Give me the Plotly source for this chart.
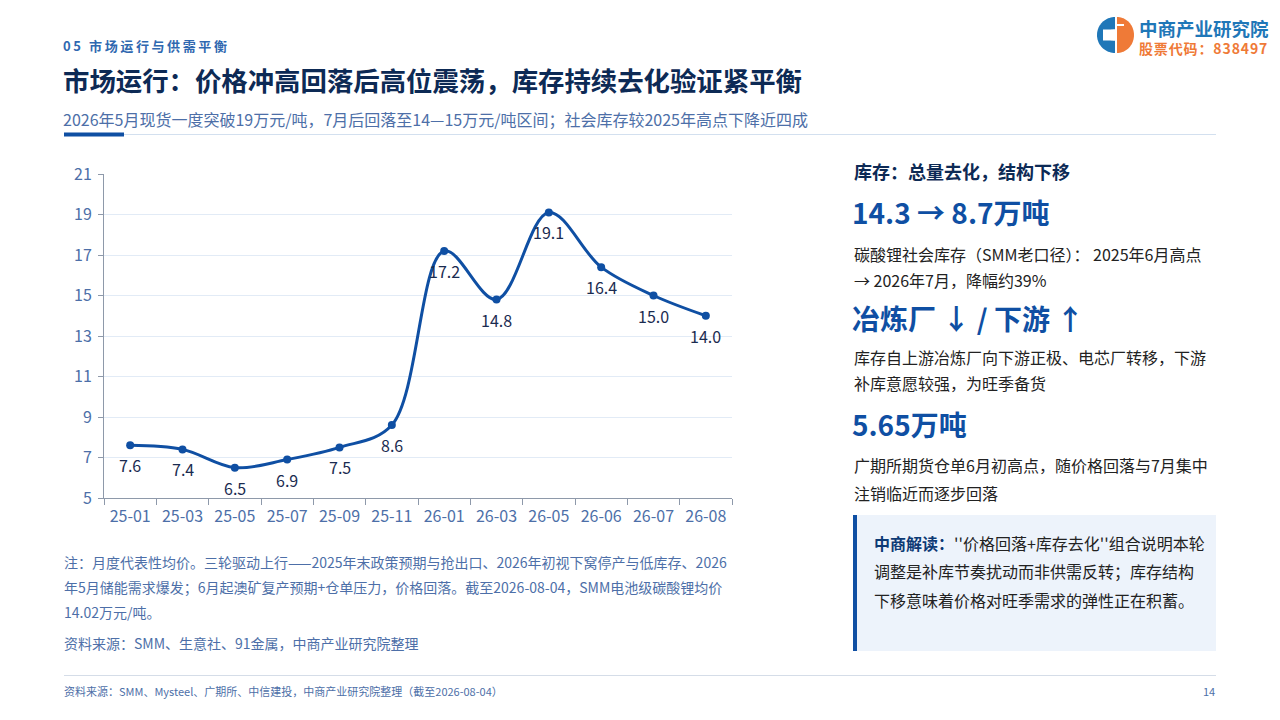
import math
import plotly.graph_objects as go

W, H = 1280, 720
OFF = 8  # the page body margin shifts the figure by 8px
FONT = "Noto Sans CJK SC"

# price series (万元/吨)
months = ["25-01", "25-03", "25-05", "25-07", "25-09", "25-11",
          "26-01", "26-03", "26-05", "26-06", "26-07", "26-08"]
price = [7.6, 7.4, 6.5, 6.9, 7.5, 8.6, 17.2, 14.8, 19.1, 16.4, 15.0, 14.0]
y_ticks = [5, 7, 9, 11, 13, 15, 17, 19, 21]

# text blocks
section = "05 市场运行与供需平衡"
title = "市场运行：价格冲高回落后高位震荡，库存持续去化验证紧平衡"
subtitle = "2026年5月现货一度突破19万元/吨，7月后回落至14—15万元/吨区间；社会库存较2025年高点下降近四成"
notes = ["注：月度代表性均价。三轮驱动上行——2025年末政策预期与抢出口、2026年初视下窝停产与低库存、2026",
         "年5月储能需求爆发；6月起澳矿复产预期+仓单压力，价格回落。截至2026-08-04，SMM电池级碳酸锂均价",
         "14.02万元/吨。"]
chart_source = "资料来源：SMM、生意社、91金属，中商产业研究院整理"
footer = "资料来源：SMM、Mysteel、广期所、中信建投，中商产业研究院整理（截至2026-08-04）"

NAVY = "#0d2a55"
BLUE = "#0f4fa3"
MUTED = "#4d6fa8"


def px(x):
    return (x - OFF) / W


def py(y):
    return 1 - (y - OFF) / H


def poly(points):
    return "M " + " L ".join("%f,%f" % (px(a), py(b)) for a, b in points) + " Z"


def arc(cx, cy, rx, ry, a0, a1, n=40):
    return [(cx + rx * math.cos(math.radians(a0 + (a1 - a0) * i / n)),
             cy - ry * math.sin(math.radians(a0 + (a1 - a0) * i / n))) for i in range(n + 1)]


def spaced(s, sep="\u2009"):
    # mimic letter spacing with narrow spaces
    return sep.join(s)


fig = go.Figure()

fig.add_trace(go.Scatter(
    x=months, y=price, mode="lines+markers",
    line=dict(color=BLUE, width=3, shape="spline", smoothing=1.0),
    marker=dict(color=BLUE, size=8),
    hoverinfo="skip", showlegend=False))

fig.update_xaxes(domain=[px(104), px(732)], type="category", range=[-0.5, 11.5],
                 tickson="boundaries", ticks="outside", ticklen=6, tickcolor="#8e99aa",
                 showline=True, linecolor="#8e99aa", linewidth=1, showgrid=False,
                 ticklabelstandoff=4, automargin=False,
                 tickfont=dict(family=FONT, size=16, color=MUTED))
fig.update_yaxes(domain=[py(498), py(174)], range=[5, 21], tickvals=y_ticks,
                 ticks="outside", ticklen=5, tickcolor="#8e99aa",
                 showline=True, linecolor="#8e99aa", linewidth=1, automargin=False,
                 showgrid=True, gridcolor="#e2ebf6", gridwidth=1, zeroline=False,
                 ticklabelstandoff=3, tickfont=dict(family=FONT, size=16, color=MUTED))

ann = []
shapes = []

# value labels under each point
for m, v in zip(months, price):
    ann.append(dict(x=m, y=v, xref="x", yref="y", text="%.1f" % v, showarrow=False,
                    yshift=-20, font=dict(family=FONT, size=16, color="#1a2b50")))


def text(x, y, s, size, color, bold=False, anchor="left"):
    if bold:
        s = "<b>%s</b>" % s
    ann.append(dict(x=px(x), y=py(y), xref="paper", yref="paper", text=s, showarrow=False,
                    xanchor=anchor, yanchor="middle", borderpad=0,
                    font=dict(family=FONT, size=size, color=color)))


# header
text(62, 45, spaced(section), 13, "#2f68b0", bold=True)
text(62, 80, title, 26.4, NAVY, bold=True)
text(62, 119, subtitle, 16, MUTED)
shapes.append(dict(type="line", xref="paper", yref="paper", x0=px(124), x1=px(1216),
                   y0=py(134.5), y1=py(134.5), line=dict(color="#d3e0ef", width=1)))
shapes.append(dict(type="rect", xref="paper", yref="paper", x0=px(64), x1=px(124),
                   y0=py(136.5), y1=py(132.5), fillcolor=BLUE, line=dict(width=0)))

# logo
LOGO_BLUE, LOGO_ORANGE = "#1f77b8", "#ef7a37"
cx, cy, r = 1115, 35, 18
shapes.append(dict(type="path", xref="paper", yref="paper",
                   path=poly(arc(cx, cy, r, r, 90, 270)),
                   fillcolor=LOGO_BLUE, line=dict(width=0)))
shapes.append(dict(type="path", xref="paper", yref="paper",
                   path=poly(arc(cx, cy, 12, 5.5, 90, 270)),
                   fillcolor="white", line=dict(width=0)))
shapes.append(dict(type="rect", xref="paper", yref="paper", x0=px(cx - 12), x1=px(cx),
                   y0=py(cy + 5.5), y1=py(cy - 5.5), fillcolor="white", line=dict(width=0),
                   layer="above"))
shapes.append(dict(type="path", xref="paper", yref="paper",
                   path=poly(arc(cx + 2, cy, r - 1, r, -90, 90)),
                   fillcolor=LOGO_ORANGE, line=dict(width=0)))
shapes.append(dict(type="rect", xref="paper", yref="paper", x0=px(cx + 2), x1=px(cx + 9),
                   y0=py(26), y1=py(24), fillcolor="white", line=dict(width=0)))
text(1138, 28, "中商产业研究院", 18.5, LOGO_BLUE, bold=True)
text(1138, 48, spaced("股票代码：838497", "\u200a"), 14, LOGO_ORANGE, bold=True)

# right panel
text(853, 171, "库存：总量去化，结构下移", 18, NAVY, bold=True)
text(851, 212, "14.3 → 8.7万吨", 28, BLUE, bold=True)
text(853, 254, "碳酸锂社会库存（SMM老口径）： 2025年6月高点", 16, "#222222")
text(853, 280, "→ 2026年7月，降幅约39%", 16, "#222222")
text(851, 318, "冶炼厂 ↓ / 下游 ↑", 28, BLUE, bold=True)
text(853, 357, "库存自上游冶炼厂向下游正极、电芯厂转移，下游", 16, "#222222")
text(853, 383, "补库意愿较强，为旺季备货", 16, "#222222")
text(851, 424, "5.65万吨", 28, BLUE, bold=True)
text(853, 465, "广期所期货仓单6月初高点，随价格回落与7月集中", 16, "#222222")
text(853, 493, "注销临近而逐步回落", 16, "#222222")

shapes.append(dict(type="rect", xref="paper", yref="paper", x0=px(853), x1=px(1216),
                   y0=py(651), y1=py(515), fillcolor="#edf3fb", line=dict(width=0)))
shapes.append(dict(type="rect", xref="paper", yref="paper", x0=px(853), x1=px(857),
                   y0=py(651), y1=py(515), fillcolor=BLUE, line=dict(width=0)))
text(873, 543, "<b><span style='color:#0d3a75'>中商解读：</span></b>''价格回落+库存去化''组合说明本轮",
     16, "#222222")
text(873, 571, "调整是补库节奏扰动而非供需反转；库存结构", 16, "#222222")
text(873, 600, "下移意味着价格对旺季需求的弹性正在积蓄。", 16, "#222222")

# notes under chart
for i, line in enumerate(notes):
    text(63, 562 + i * 25, line, 14, MUTED)
text(63, 643, chart_source, 14, MUTED)

# footer
shapes.append(dict(type="line", xref="paper", yref="paper", x0=px(64), x1=px(1216),
                   y0=py(675.5), y1=py(675.5), line=dict(color="#d5dde8", width=1)))
text(63, 691, footer, 11, MUTED)
text(1216, 691, "14", 11, MUTED, anchor="right")

fig.update_layout(width=W, height=H, margin=dict(l=0, r=0, t=0, b=0),
                  paper_bgcolor="white", plot_bgcolor="white",
                  annotations=ann, shapes=shapes, showlegend=False)

fig.write_html("out.html")
